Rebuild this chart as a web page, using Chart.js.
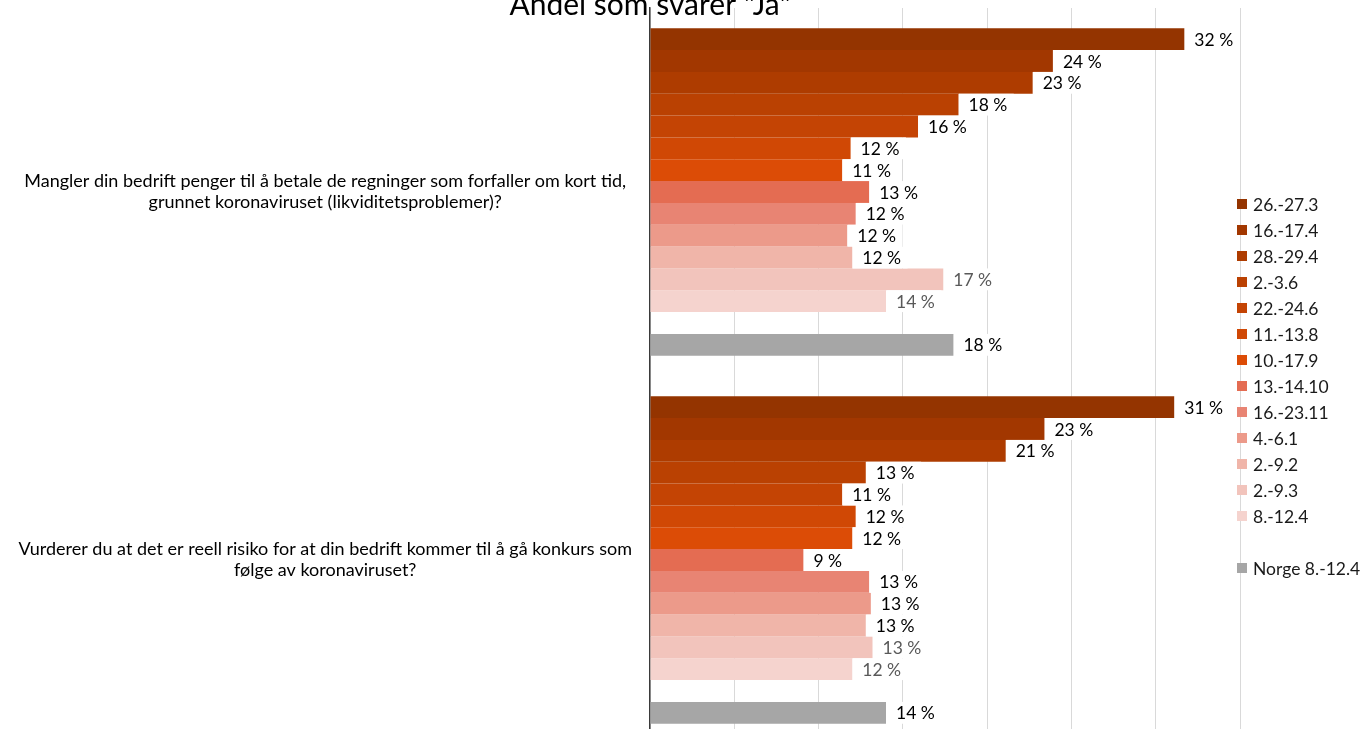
<!DOCTYPE html>
<html lang="no">
<head>
<meta charset="utf-8">
<title>Andel som svarer "Ja"</title>
<script src="https://cdn.jsdelivr.net/npm/chart.js@4"></script>
<style>
    html, body { margin: 0; padding: 0; background: #fff; overflow: hidden; }
    #wrap { position: relative; width: 1360px; height: 744px; }
</style>
</head>
<body>
<div id="wrap"><canvas id="chart"></canvas></div>
<script>
// spørsmål (kategorier)
const categories = [
    ['Mangler din bedrift penger til å betale de regninger som forfaller om kort tid,', 'grunnet koronaviruset (likviditetsproblemer)?'],
    ['Vurderer du at det er reell risiko for at din bedrift kommer til å gå konkurs som', 'følge av koronaviruset?']
];

// måleperioder
const periods = ['26.-27.3', '16.-17.4', '28.-29.4', '2.-3.6', '22.-24.6', '11.-13.8', '10.-17.9',
    '13.-14.10', '16.-23.11', '4.-6.1', '2.-9.2', '2.-9.3', '8.-12.4'];

// andel "Ja" per periode, i prosent
const likviditet = [31.7, 23.9, 22.7, 18.3, 15.9, 11.9, 11.4, 13.0, 12.2, 11.7, 12.0, 17.4, 14.0];
const konkurs = [31.1, 23.4, 21.1, 12.8, 11.4, 12.2, 12.0, 9.1, 13.0, 13.1, 12.8, 13.2, 12.0];

const norgeLabel = 'Norge 8.-12.4';
const norge = [18.0, 14.0];

// x-akse: 0 til 35 %, steg på 5
const xMax = 35;
const xStep = 5;

// farger
const periodColors = ['#943400', '#A23700', '#AE3C00', '#BA4102', '#C44404', '#D04805', '#DC4C06',
    '#E46C52', '#E88473', '#EC9A8A', '#F0B5A9', '#F2C4BC', '#F5D3CE'];
const norgeColor = '#A6A6A6';
const FONT = 'Lato';

// bygg datasett
const datasets = periods.map((p, i) => ({
    label: p,
    data: [likviditet[i], konkurs[i]],
    backgroundColor: periodColors[i],
    labelColor: i >= 11 ? '#595959' : '#000000'
}));
// tom serie som gir mellomrom
datasets.push({ label: '', data: [null, null], backgroundColor: 'rgba(0,0,0,0)', labelColor: '#000' });
datasets.push({ label: norgeLabel, data: norge, backgroundColor: norgeColor, labelColor: '#000000' });

// verdietiketter med hvit bakgrunn
const valueLabels = {
    id: 'valueLabels',
    afterDatasetsDraw(chart) {
        const ctx = chart.ctx;
        ctx.save();
        ctx.font = '17.5px ' + FONT;
        ctx.textBaseline = 'middle';
        chart.data.datasets.forEach((ds, di) => {
            const meta = chart.getDatasetMeta(di);
            meta.data.forEach((bar, i) => {
                const v = ds.data[i];
                if (v == null) return;
                const txt = Math.round(v) + ' %';
                const w = ctx.measureText(txt).width;
                const h = bar.height;
                ctx.fillStyle = '#fff';
                ctx.fillRect(bar.x + 0.5, bar.y - h / 2, w + 16, h);
                ctx.fillStyle = ds.labelColor;
                ctx.fillText(txt, bar.x + 10, bar.y + 1);
            });
        });
        ctx.restore();
    }
};

// tittel og forklaring
const titleAndLegend = {
    id: 'titleAndLegend',
    afterDraw(chart) {
        const ctx = chart.ctx;
        const area = chart.chartArea;
        ctx.save();
        ctx.font = '30px ' + FONT;
        ctx.fillStyle = '#000';
        ctx.textAlign = 'center';
        ctx.textBaseline = 'alphabetic';
        ctx.fillText('Andel som svarer "Ja"', area.left, 15);

        ctx.font = '17.5px ' + FONT;
        ctx.textAlign = 'left';
        ctx.textBaseline = 'middle';
        const n = chart.data.datasets.length;
        const step = 26;
        const top = 386 - (n - 1) * step / 2;
        chart.data.datasets.forEach((ds, i) => {
            if (!ds.label) return;
            const y = top + i * step;
            ctx.fillStyle = ds.backgroundColor;
            ctx.fillRect(area.right - 3, y - 5, 10, 10);
            ctx.fillStyle = '#1a1a1a';
            ctx.fillText(ds.label, area.right + 13, y + 1);
        });
        ctx.restore();
    }
};

new Chart(document.getElementById('chart'), {
    type: 'bar',
    data: { labels: categories, datasets: datasets },
    plugins: [valueLabels, titleAndLegend],
    options: {
        indexAxis: 'y',
        responsive: true,
        maintainAspectRatio: false,
        animation: false,
        layout: { padding: { top: 8, right: 120, bottom: 0, left: 0 } },
        datasets: {
            bar: { categoryPercentage: 0.89, barPercentage: 1.0, borderWidth: 0 }
        },
        plugins: {
            legend: { display: false },
            title: { display: false },
            tooltip: { enabled: false }
        },
        scales: {
            x: {
                min: 0,
                max: xMax,
                ticks: { display: false, stepSize: xStep },
                grid: { color: '#D9D9D9', lineWidth: 1, drawTicks: false },
                border: { display: false }
            },
            y: {
                grid: { display: false },
                border: { display: true, color: '#3a3a3a', width: 1.5 },
                ticks: {
                    crossAlign: 'center',
                    padding: 10,
                    color: '#000',
                    font: { family: FONT, size: 18, lineHeight: 1.17 }
                },
                afterFit(scale) {
                    scale.width = 650;
                    scale.paddingTop = 0;
                    scale.paddingBottom = 0;
                }
            }
        }
    }
});
</script>
</body>
</html>
